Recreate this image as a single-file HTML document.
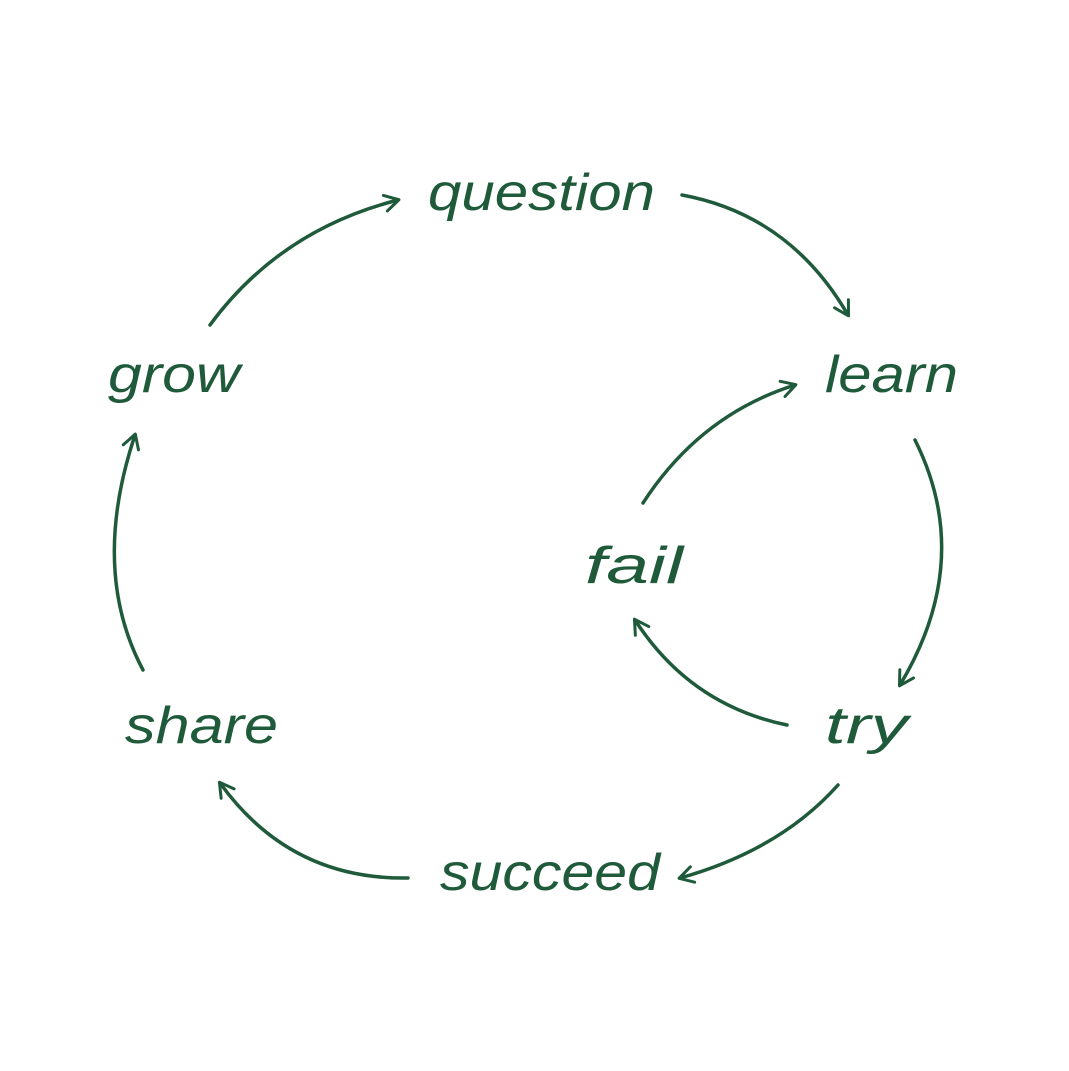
<!DOCTYPE html>
<html><head><meta charset="utf-8"><style>
html,body{margin:0;padding:0;background:#fff;}
svg{display:block}
text{font-family:"Liberation Sans",sans-serif;font-style:italic;fill:#1f5a3a;font-size:52px;}
</style></head><body>
<svg width="1069" height="1071" viewBox="0 0 1069 1071" xmlns="http://www.w3.org/2000/svg">
<defs>
<marker id="a" viewBox="0 0 20 20" refX="16" refY="10" markerWidth="20" markerHeight="20" markerUnits="userSpaceOnUse" orient="auto">
<path d="M3,2 L17,10 L3,18" fill="none" stroke="#1f5a3a" stroke-width="3" stroke-linecap="round" stroke-linejoin="round"/>
</marker>
</defs>
<g fill="none" stroke="#1f5a3a" stroke-width="3.5" stroke-linecap="round" marker-end="url(#a)">
<path d="M210,325 Q280,230 398,200"/>
<path d="M682,195 Q790,215 848,315"/>
<path d="M915,440 Q975,560 900,685"/>
<path d="M787,725 Q690,705 635,620"/>
<path d="M643,503 Q700,415 795,385"/>
<path d="M838,785 Q780,850 680,878"/>
<path d="M408,878 Q290,880 220,783"/>
<path d="M143,670 Q90,570 135,435"/>
</g>
<text x="428" y="210" textLength="227" lengthAdjust="spacingAndGlyphs">question</text>
<text x="108" y="392" textLength="132" lengthAdjust="spacingAndGlyphs">grow</text>
<text x="825" y="392" textLength="133" lengthAdjust="spacingAndGlyphs">learn</text>
<text x="585" y="583" textLength="98" lengthAdjust="spacingAndGlyphs">fail</text>
<text x="125" y="743" textLength="153" lengthAdjust="spacingAndGlyphs">share</text>
<text x="825" y="743" textLength="83" lengthAdjust="spacingAndGlyphs">try</text>
<text x="440" y="890" textLength="220" lengthAdjust="spacingAndGlyphs">succeed</text>
</svg>
</body></html>
